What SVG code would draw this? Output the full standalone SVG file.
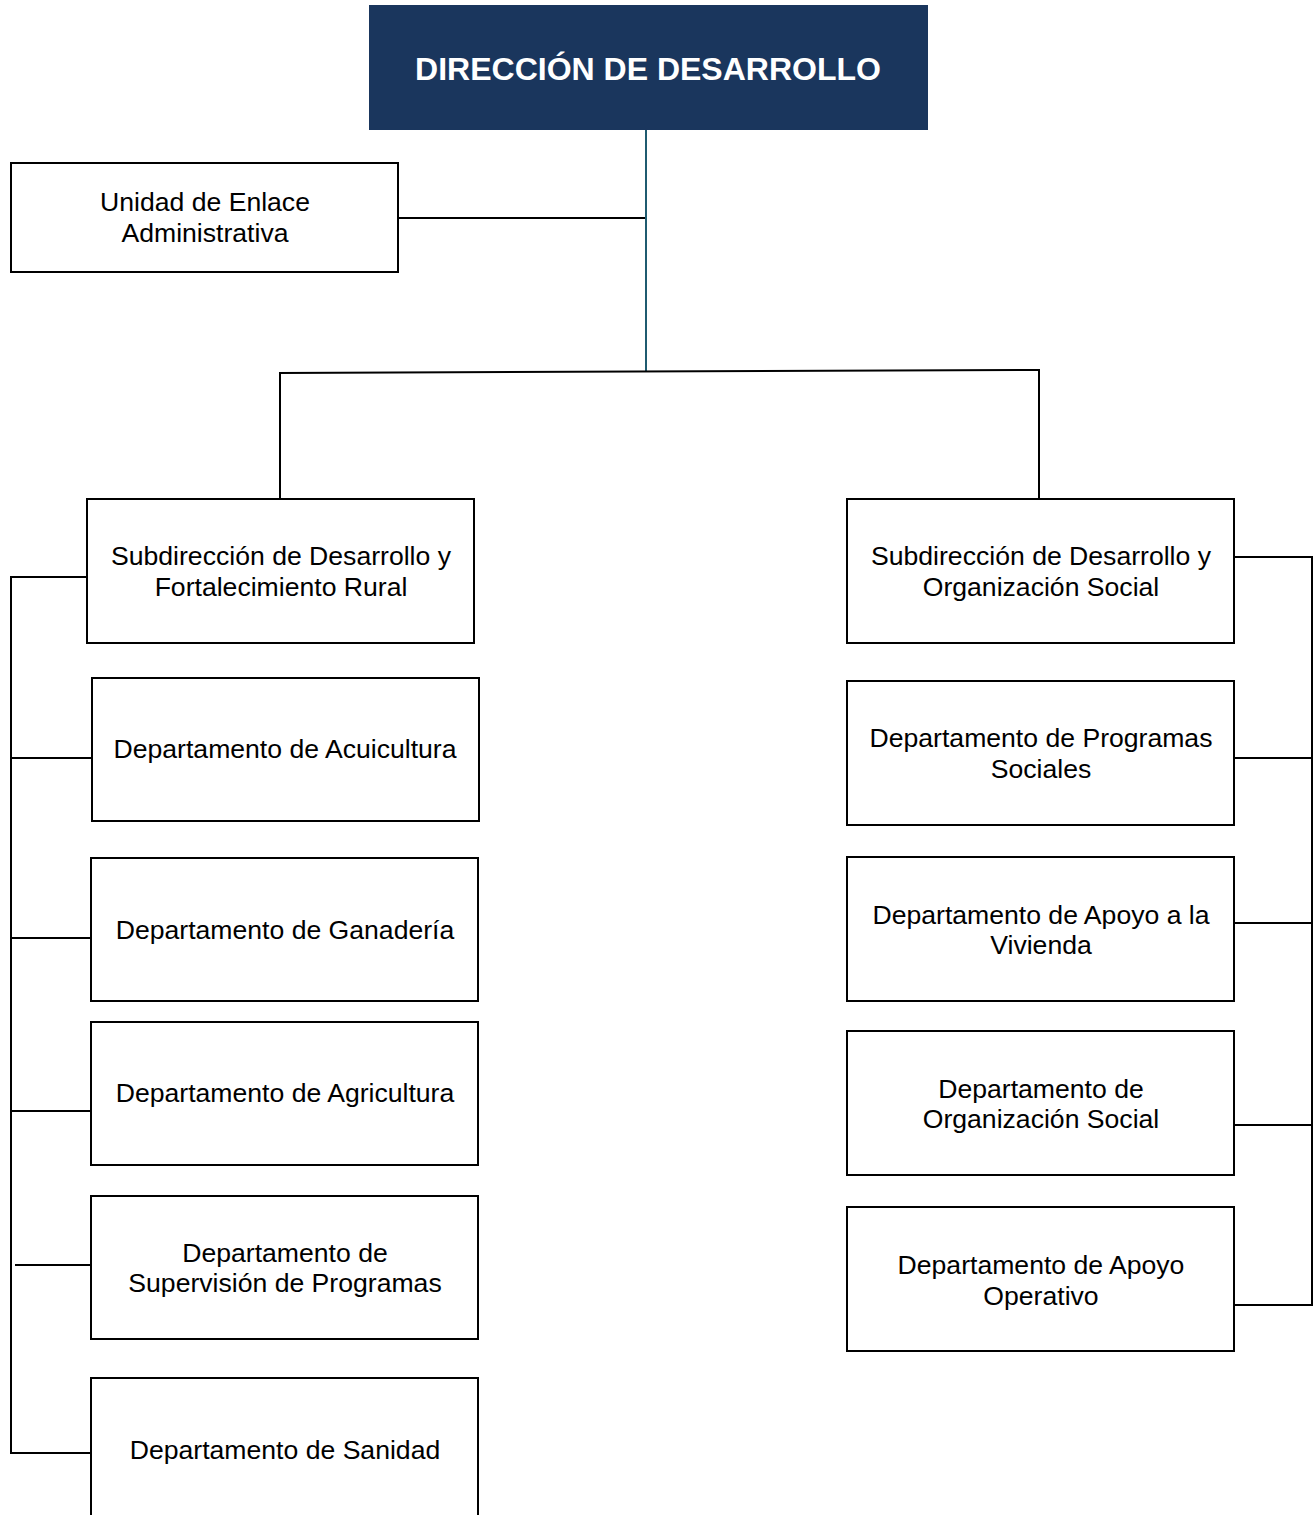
<svg xmlns="http://www.w3.org/2000/svg" width="1316" height="1515" viewBox="0 0 1316 1515">
<style>
.box{fill:#fff;stroke:#000;stroke-width:2}
.t{font-family:"Liberation Sans",Arial,sans-serif;font-size:26.6px;fill:#000;text-anchor:middle}
.title{font-family:"Liberation Sans",Arial,sans-serif;font-size:32px;font-weight:bold;fill:#fff;text-anchor:middle}
.c{stroke:#000;stroke-width:2;fill:none}
</style>
<rect width="1316" height="1515" fill="#fff"/>
<g id="connectors">
<line x1="646" y1="130" x2="646" y2="371" stroke="#1f5b70" stroke-width="2"/>
<line class="c" x1="398" y1="218" x2="645" y2="218"/>
<line class="c" x1="279" y1="373" x2="1040" y2="370"/>
<line class="c" x1="280" y1="373" x2="280" y2="499"/>
<line class="c" x1="1039" y1="371" x2="1039" y2="499"/>
<polyline class="c" points="87,577 11,577 11,1453 91,1453"/>
<line class="c" x1="11" y1="758" x2="92" y2="758"/>
<line class="c" x1="11" y1="938" x2="91" y2="938"/>
<line class="c" x1="11" y1="1111" x2="91" y2="1111"/>
<line class="c" x1="15" y1="1265" x2="91" y2="1265"/>
<polyline class="c" points="1234,557 1312,557 1312,1305 1234,1305"/>
<line class="c" x1="1234" y1="758" x2="1312" y2="758"/>
<line class="c" x1="1234" y1="923" x2="1312" y2="923"/>
<line class="c" x1="1234" y1="1125" x2="1312" y2="1125"/>
</g>
<g id="direccion">
<rect x="369" y="5" width="559" height="125" fill="#1a365d"/>
<text class="title" x="648" y="80">DIRECCIÓN DE DESARROLLO</text>
</g>
<g id="unidad">
<rect class="box" x="11" y="163" width="387" height="109"/>
<text class="t" x="205" y="211">Unidad de Enlace</text>
<text class="t" x="205" y="242">Administrativa</text>
</g>
<g id="sub-rural">
<rect class="box" x="87" y="499" width="387" height="144"/>
<text class="t" x="281" y="565">Subdirección de Desarrollo y</text>
<text class="t" x="281" y="596">Fortalecimiento Rural</text>
</g>
<g id="acuicultura">
<rect class="box" x="92" y="678" width="387" height="143"/>
<text class="t" x="285" y="758">Departamento de Acuicultura</text>
</g>
<g id="ganaderia">
<rect class="box" x="91" y="858" width="387" height="143"/>
<text class="t" x="285" y="939">Departamento de Ganadería</text>
</g>
<g id="agricultura">
<rect class="box" x="91" y="1022" width="387" height="143"/>
<text class="t" x="285" y="1102">Departamento de Agricultura</text>
</g>
<g id="supervision">
<rect class="box" x="91" y="1196" width="387" height="143"/>
<text class="t" x="285" y="1262">Departamento de</text>
<text class="t" x="285" y="1292">Supervisión de Programas</text>
</g>
<g id="sanidad">
<path class="box" d="M91,1516 V1378 H478 V1516"/>
<text class="t" x="285" y="1459">Departamento de Sanidad</text>
</g>
<g id="sub-social">
<rect class="box" x="847" y="499" width="387" height="144"/>
<text class="t" x="1041" y="565">Subdirección de Desarrollo y</text>
<text class="t" x="1041" y="596">Organización Social</text>
</g>
<g id="programas">
<rect class="box" x="847" y="681" width="387" height="144"/>
<text class="t" x="1041" y="747">Departamento de Programas</text>
<text class="t" x="1041" y="778">Sociales</text>
</g>
<g id="vivienda">
<rect class="box" x="847" y="857" width="387" height="144"/>
<text class="t" x="1041" y="924">Departamento de Apoyo a la</text>
<text class="t" x="1041" y="954">Vivienda</text>
</g>
<g id="organizacion">
<rect class="box" x="847" y="1031" width="387" height="144"/>
<text class="t" x="1041" y="1098">Departamento de</text>
<text class="t" x="1041" y="1128">Organización Social</text>
</g>
<g id="operativo">
<rect class="box" x="847" y="1207" width="387" height="144"/>
<text class="t" x="1041" y="1274">Departamento de Apoyo</text>
<text class="t" x="1041" y="1305">Operativo</text>
</g>
</svg>
